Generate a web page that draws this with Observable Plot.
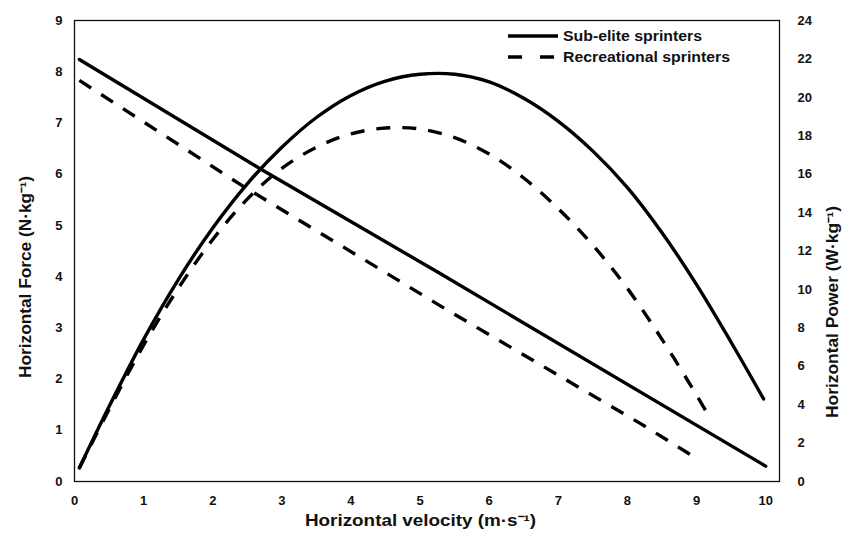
<!DOCTYPE html>
<html>
<head>
<meta charset="utf-8">
<script src="https://cdn.jsdelivr.net/npm/d3@7"></script>
<script src="https://cdn.jsdelivr.net/npm/@observablehq/plot@0.6"></script>
<style>
  body { margin: 0; background: #fff; }
  #wrap { position: relative; width: 850px; height: 537px; }
  #legend { position: absolute; left: 506px; top: 25px; }
</style>
</head>
<body>
<div id="wrap">
  <div id="chart"></div>
  <div id="legend"></div>
</div>
<script>
// ---- Data ----
const velocityTicks = [0, 1, 2, 3, 4, 5, 6, 7, 8, 9, 10];
const forceTicks = [0, 1, 2, 3, 4, 5, 6, 7, 8, 9];
const powerTicks = [0, 2, 4, 6, 8, 10, 12, 14, 16, 18, 20, 22, 24];

const seriesNames = ["Sub-elite sprinters", "Recreational sprinters"];
const xTitle = "Horizontal velocity (m·s⁻¹)";
const yLeftTitle = "Horizontal Force (N·kg⁻¹)";
const yRightTitle = "Horizontal Power (W·kg⁻¹)";

// Force–velocity lines (N·kg⁻¹)
const subEliteForceV = [0.07, 2.68, 5.29, 10.0];
const subEliteForce  = [8.24, 6.11, 4.06, 0.30];
const recForceV = [0.07, 2.42, 5.39, 8.19, 9.0];
const recForce  = [7.83, 5.78, 3.35, 1.13, 0.45];

// Power–velocity curves (W·kg⁻¹)
const subElitePowerV = [0.07, 0.5, 1, 1.5, 2, 2.5, 3, 3.5, 4, 4.5, 5, 5.5, 6, 6.5, 7, 7.5, 8, 8.5, 9, 9.5, 9.97];
const subElitePower  = [0.7, 3.9, 7.4, 10.5, 13.2, 15.5, 17.4, 18.95, 20.1, 20.85, 21.2, 21.2, 20.8, 19.95, 18.75, 17.2, 15.3, 12.95, 10.25, 7.25, 4.3];
const recPowerV = [0.07, 0.5, 1, 1.5, 2, 2.5, 3, 3.5, 4, 4.5, 5, 5.5, 6, 6.5, 7, 7.5, 8, 8.5, 9, 9.13];
const recPower  = [0.7, 3.75, 7.1, 10.05, 12.6, 14.7, 16.3, 17.4, 18.1, 18.4, 18.35, 17.9, 17.05, 15.8, 14.2, 12.3, 10.05, 7.4, 4.5, 3.7];

// ---- Build tables ----
const zip = (vs, ys) => vs.map((v, i) => ({v, y: ys[i]}));
const forceMax = 9, powerMax = 24;
const toForceScale = p => p * forceMax / powerMax;

const font = "'Liberation Sans', Arial, sans-serif";
const solid = {stroke: "#000", strokeWidth: 3.4, strokeLinecap: "round", strokeLinejoin: "round"};
const dashed = {...solid, strokeDasharray: "14,12", strokeLinecap: "butt"};

const chart = Plot.plot({
  width: 850,
  height: 537,
  marginLeft: 74,
  marginRight: 71,
  marginTop: 20,
  marginBottom: 56,
  style: {fontFamily: font, fontSize: "13px", fontWeight: "bold", color: "#111", background: "#fff"},
  x: {domain: [0, 10.2]},
  y: {domain: [0, forceMax]},
  marks: [
    Plot.frame({stroke: "#111", strokeWidth: 1.3}),
    Plot.axisX({ticks: velocityTicks, tickSize: 0, tickPadding: 14, label: null, tickFormat: d => d}),
    Plot.axisY({anchor: "left", ticks: forceTicks, tickSize: 0, tickPadding: 12, label: null, tickFormat: d => d}),
    Plot.axisY({anchor: "right", ticks: powerTicks.map(toForceScale), tickSize: 0, tickPadding: 18, label: null,
                tickFormat: d => Math.round(d * powerMax / forceMax)}),
    Plot.line(zip(subEliteForceV, subEliteForce), {x: "v", y: "y", ...solid}),
    Plot.line(zip(recForceV, recForce), {x: "v", y: "y", ...dashed}),
    Plot.line(zip(subElitePowerV, subElitePower), {x: "v", y: d => toForceScale(d.y), curve: "catmull-rom", ...solid}),
    Plot.line(zip(recPowerV, recPower), {x: "v", y: d => toForceScale(d.y), curve: "catmull-rom", ...dashed})
  ]
});
document.getElementById("chart").appendChild(chart);

// ---- Axis titles (start-anchored, stretched to the reference's lengths) ----
const ns = "http://www.w3.org/2000/svg";
function title(svg, str, tx, ty, rot, len) {
  const t = document.createElementNS(ns, "text");
  t.setAttribute("transform", `translate(${tx},${ty}) rotate(${rot})`);
  t.setAttribute("text-anchor", "start");
  t.setAttribute("dy", "0.35em");
  t.setAttribute("font-family", font);
  t.setAttribute("font-weight", "bold");
  t.setAttribute("font-size", 16);
  t.setAttribute("fill", "#111");
  t.setAttribute("textLength", len);
  t.setAttribute("lengthAdjust", "spacingAndGlyphs");
  t.textContent = str;
  svg.appendChild(t);
}
title(chart, xTitle, 305, 520, 0, 231);
title(chart, yLeftTitle, 25, 378, -90, 202);
title(chart, yRightTitle, 832, 418, -90, 212);

// ---- Legend ----
const legendLengths = [139, 167];
const lsvg = document.createElementNS(ns, "svg");
lsvg.setAttribute("width", 240);
lsvg.setAttribute("height", 46);
seriesNames.forEach((name, i) => {
  const cy = 11 + i * 21;
  const line = document.createElementNS(ns, "line");
  line.setAttribute("x1", 2); line.setAttribute("x2", 52);
  line.setAttribute("y1", cy); line.setAttribute("y2", cy);
  line.setAttribute("stroke", "#000"); line.setAttribute("stroke-width", 3.6);
  if (i === 1) line.setAttribute("stroke-dasharray", "14,18");
  lsvg.appendChild(line);
  const text = document.createElementNS(ns, "text");
  text.setAttribute("x", 57); text.setAttribute("y", cy);
  text.setAttribute("dy", "0.35em");
  text.setAttribute("font-family", font);
  text.setAttribute("font-weight", "bold");
  text.setAttribute("font-size", 14);
  text.setAttribute("fill", "#111");
  text.setAttribute("textLength", legendLengths[i]);
  text.setAttribute("lengthAdjust", "spacingAndGlyphs");
  text.textContent = name;
  lsvg.appendChild(text);
});
document.getElementById("legend").appendChild(lsvg);
</script>
</body>
</html>
